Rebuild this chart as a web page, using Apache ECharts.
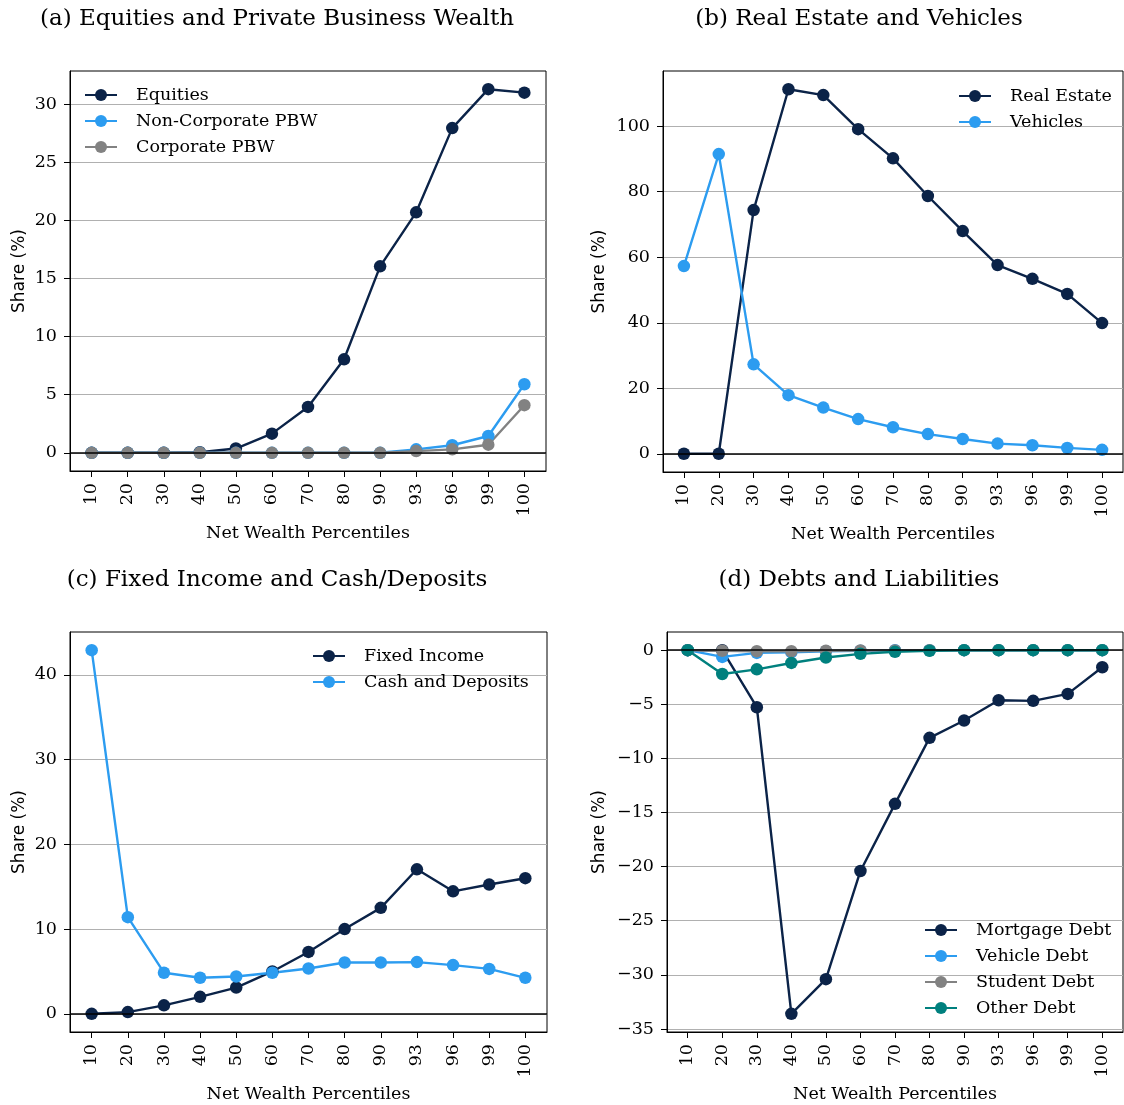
<!DOCTYPE html>
<html>
<head>
<meta charset="utf-8">
<script src="https://cdn.jsdelivr.net/npm/echarts@6/dist/echarts.min.js"></script>
<style>html,body{margin:0;padding:0;background:#fff}#c{width:1124px;height:1105px}</style>
</head>
<body>
<div id="c"></div>
<script>
// ---------- data ----------
const percentiles = ['10','20','30','40','50','60','70','80','90','93','96','99','100'];

const equities      = [0, 0, 0, 0.05, 0.37, 1.65, 3.95, 8.05, 16.05, 20.7, 27.95, 31.3, 31.0];
const nonCorpPBW    = [0, 0, 0, 0, 0, 0, 0, 0, 0, 0.3, 0.65, 1.45, 5.9];
const corpPBW       = [0, 0, 0, 0, 0, 0, 0, 0, 0, 0.15, 0.3, 0.7, 4.1];

const realEstate    = [0, 0, 74.4, 111.3, 109.5, 99.1, 90.2, 78.7, 68.0, 57.6, 53.4, 48.8, 39.9];
const vehicles      = [57.3, 91.5, 27.3, 17.9, 14.1, 10.6, 8.1, 6.0, 4.5, 3.1, 2.6, 1.8, 1.2];

const fixedIncome   = [0, 0.2, 1.0, 2.0, 3.1, 5.0, 7.3, 10.0, 12.5, 17.05, 14.45, 15.25, 16.0];
const cashDeposits  = [42.9, 11.4, 4.85, 4.25, 4.4, 4.85, 5.35, 6.05, 6.05, 6.1, 5.75, 5.3, 4.25];

const mortgageDebt  = [0, 0, -5.27, -33.6, -30.4, -20.4, -14.2, -8.1, -6.5, -4.63, -4.68, -4.04, -1.58];
const vehicleDebt   = [0, -0.62, -0.25, -0.2, -0.1, -0.05, 0, 0, 0, 0, 0, 0, 0];
const studentDebt   = [0, -0.05, -0.1, -0.1, -0.05, -0.03, -0.02, -0.01, 0, 0, 0, 0, 0];
const otherDebt     = [0, -2.2, -1.77, -1.18, -0.68, -0.34, -0.15, -0.05, 0, 0, 0, 0, 0];

const yTicksA = [0, 5, 10, 15, 20, 25, 30];
const yTicksB = [0, 20, 40, 60, 80, 100];
const yTicksC = [0, 10, 20, 30, 40];
const yTicksD = [-35, -30, -25, -20, -15, -10, -5, 0];

const titles = ['(a) Equities and Private Business Wealth', '(b) Real Estate and Vehicles',
                '(c) Fixed Income and Cash/Deposits', '(d) Debts and Liabilities'];

// ---------- style ----------
const NAVY = '#0b2348', BLUE = '#2c9cf0', GRAY = '#828282', TEAL = '#00807e';
const SERIF = 'DejaVu Serif', SANS = 'DejaVu Sans';
const FS = 17.5;
const grids = [
  {left: 70, top: 71, width: 476, height: 400},
  {left: 663, top: 71, width: 460, height: 401},
  {left: 70, top: 632, width: 477, height: 400},
  {left: 667, top: 632, width: 456, height: 400}
];
const yRanges = [[-1.565, 32.865], [-5.565, 116.865], [-2.145, 45.045], [-35.28, 1.68]];
const yTicks = [yTicksA, yTicksB, yTicksC, yTicksD];
const yNameGaps = [42, 55, 42, 59];

const idx = percentiles.map((_, i) => i);
const pts = arr => arr.map((v, i) => [i, v]);

const option = {
  animation: false,
  backgroundColor: '#fff',
  title: titles.map((t, i) => ({
    text: t,
    left: i % 2 === 0 ? 272 : 854,
    textAlign: 'center',
    top: i < 2 ? 3 : 564,
    textStyle: {fontFamily: SERIF, fontWeight: 'normal', fontSize: 23, color: '#000'}
  })),
  grid: grids.map(g => Object.assign({show: true, borderColor: '#000', borderWidth: 1, backgroundColor: 'transparent'}, g)),
  xAxis: grids.map((g, i) => ({
    type: 'value', gridIndex: i, min: -0.6, max: 12.6,
    name: 'Net Wealth Percentiles', nameLocation: 'middle', nameGap: 53,
    nameTextStyle: {fontFamily: SERIF, fontSize: FS, color: '#000'},
    axisLine: {show: true, onZero: false, lineStyle: {color: '#000', width: 1}},
    axisTick: {show: true, length: 6, customValues: idx, lineStyle: {color: '#000'}},
    axisLabel: {customValues: idx, rotate: 90, margin: 12, fontFamily: SERIF, fontSize: FS, color: '#000',
                formatter: v => percentiles[Math.round(v)]},
    splitLine: {show: false}
  })),
  yAxis: grids.map((g, i) => ({
    type: 'value', gridIndex: i, min: yRanges[i][0], max: yRanges[i][1],
    name: 'Share (%)', nameLocation: 'middle', nameGap: yNameGaps[i], nameRotate: 90,
    nameTextStyle: {fontFamily: SANS, fontSize: 17, color: '#000'},
    axisLine: {show: true, onZero: false, lineStyle: {color: '#000', width: 1}},
    axisTick: {show: true, length: 6, customValues: yTicks[i], lineStyle: {color: '#000'}},
    axisLabel: {customValues: yTicks[i], margin: 13, fontFamily: SERIF, fontSize: FS, color: '#000',
                formatter: v => String(v).replace('-', '\u2212')},
    splitLine: {show: true, lineStyle: {color: '#b0b0b0', width: 1}}
  })),
  legend: [
    {data: ['Equities', 'Non-Corporate PBW', 'Corporate PBW'], left: 79, top: 81},
    {data: ['Real Estate', 'Vehicles'], left: 953, top: 82},
    {data: ['Fixed Income', 'Cash and Deposits'], left: 307, top: 642},
    {data: ['Mortgage Debt', 'Vehicle Debt', 'Student Debt', 'Other Debt'], left: 919, top: 916}
  ].map(l => Object.assign({
    orient: 'vertical', itemWidth: 32, itemHeight: 15, itemGap: 8,
    textStyle: {fontFamily: SERIF, fontSize: FS, color: '#000', padding: [0, 0, 0, 14], lineHeight: 18}
  }, l)),
  series: []
};

function addSeries(name, data, color, panel, zeroLine) {
  const s = {
    name, type: 'line', xAxisIndex: panel, yAxisIndex: panel,
    data: pts(data), symbol: 'circle', symbolSize: 12.5, showSymbol: true,
    lineStyle: {color, width: 2.4}, itemStyle: {color},
    emphasis: {disabled: true}
  };
  if (zeroLine) {
    s.markLine = {silent: true, symbol: 'none', label: {show: false},
                  lineStyle: {color: '#000', width: 1.5, type: 'solid'}, data: [{yAxis: 0}]};
  }
  option.series.push(s);
}
addSeries('Equities', equities, NAVY, 0, true);
addSeries('Non-Corporate PBW', nonCorpPBW, BLUE, 0);
addSeries('Corporate PBW', corpPBW, GRAY, 0);
addSeries('Real Estate', realEstate, NAVY, 1, true);
addSeries('Vehicles', vehicles, BLUE, 1);
addSeries('Fixed Income', fixedIncome, NAVY, 2, true);
addSeries('Cash and Deposits', cashDeposits, BLUE, 2);
addSeries('Mortgage Debt', mortgageDebt, NAVY, 3, true);
addSeries('Vehicle Debt', vehicleDebt, BLUE, 3);
addSeries('Student Debt', studentDebt, GRAY, 3);
addSeries('Other Debt', otherDebt, TEAL, 3);

const chart = echarts.init(document.getElementById('c'), null, {renderer: 'canvas'});
chart.setOption(option);
</script>
</body>
</html>
